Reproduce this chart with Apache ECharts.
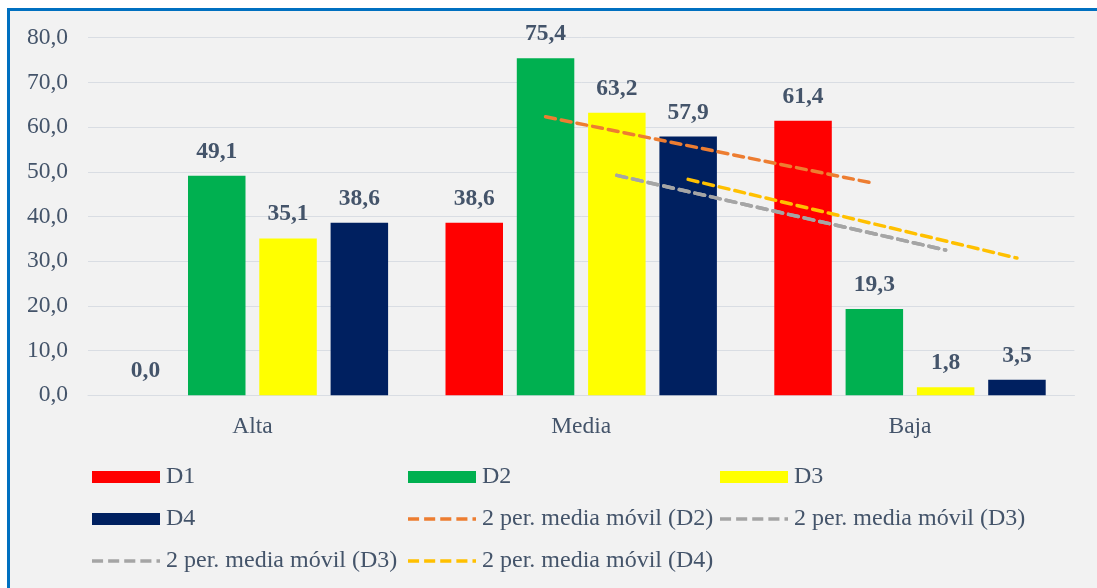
<!DOCTYPE html>
<html>
<head>
<meta charset="utf-8">
<script src="https://cdn.jsdelivr.net/npm/echarts@6/dist/echarts.min.js"></script>
<style>
  html, body { margin: 0; padding: 0; background: #ffffff; width: 1097px; height: 588px; overflow: hidden; }
  #frame { position: absolute; left: 7px; top: 8px; width: 1090px; height: 580px;
           border-top: 3px solid #0070C0; border-left: 3px solid #0070C0; background: #F2F2F2; }
  #chart { position: absolute; left: 0; top: 0; width: 1087px; height: 577px; }
</style>
</head>
<body>
<div id="frame"><div id="chart"></div></div>
<script>
// ---- data ----
const categories = ['Alta', 'Media', 'Baja'];
const d1 = [0.0, 38.6, 61.4];
const d2 = [49.1, 75.4, 19.3];
const d3 = [35.1, 63.2, 1.8];
const d4 = [38.6, 57.9, 3.5];
const maCategories = ['Media', 'Baja'];
const maD2 = [62.3, 47.4];
const maD3 = [49.2, 32.5];
const maD4 = [48.3, 30.7];
const barNames = ['D1', 'D2', 'D3', 'D4'];
const maNames = ['2 per. media móvil (D2)', '2 per. media móvil (D3)', '2 per. media móvil (D4)'];

// ---- style / layout ----
const FONT = 'Liberation Serif';
const TXT = '#44546A';
const barColors = ['#FF0000', '#00B050', '#FFFF00', '#002060'];
const W = 1087, H = 577;
const grid = { left: 78, right: 22.6, top: 26.7, bottom: 192.7 };
const BAR_W = 57.5, BAR_GAP = 0.24;
const bandW = (W - grid.left - grid.right) / categories.length;
function barOffset(k) { return (k - 1.5) * BAR_W * (1 + BAR_GAP) / bandW; }
function maData(vals, k) {
  return maCategories.map((c, i) => [categories.indexOf(c) + barOffset(k), vals[i]]);
}
const fmt = v => v.toFixed(1).replace('.', ',');
const DASH_ICON = 'path://M0,0h11v3.5h-11z M16,0h11v3.5h-11z M32,0h11v3.5h-11z M48,0h11v3.5h-11z M64,0h3.5v3.5h-3.5z';

const barSeries = [d1, d2, d3, d4].map((vals, k) => ({
  name: barNames[k], type: 'bar', data: vals, barWidth: BAR_W, barGap: (BAR_GAP * 100) + '%',
  itemStyle: { color: barColors[k] },
  label: { show: true, position: 'top', distance: 12, formatter: p => fmt(p.value),
           fontFamily: FONT, fontSize: 23.5, fontWeight: 'bold', color: TXT }
}));
function maSeries(name, vals, k, color) {
  return { name: name, type: 'line', xAxisIndex: 1, data: maData(vals, k), symbol: 'none', z: 5,
           lineStyle: { color: color, width: 3.5, type: [10, 6], cap: 'round' },
           itemStyle: { color: color } };
}
const lineSeries = [
  maSeries(maNames[0], maD2, 1, '#ED7D31'),
  maSeries(maNames[1], maD3, 2, '#A5A5A5'),
  maSeries(maNames[1], maD3, 2, '#A5A5A5'),
  maSeries(maNames[2], maD4, 3, '#FFC000')
];

// legend layout: [name, col, row, isBar]
const legendItems = [
  [barNames[0], 0, 0, true], [barNames[1], 1, 0, true], [barNames[2], 2, 0, true],
  [barNames[3], 0, 1, true], [maNames[0], 1, 1, false], [maNames[1], 2, 1, false],
  [maNames[1], 0, 2, false], [maNames[2], 1, 2, false]
];
const colX = [82, 398, 710];
const rowY = [454, 496, 538];
const legends = legendItems.map(([name, c, r, isBar]) => ({
  left: colX[c], top: rowY[r], padding: 0, itemWidth: 68, itemHeight: 12, itemGap: 0,
  symbolKeepAspect: true,
  data: [{ name: name, icon: isBar ? 'rect' : DASH_ICON }],
  itemStyle: { borderWidth: 0 },
  lineStyle: { width: 0 },
  textStyle: { fontFamily: FONT, fontSize: 24, color: TXT, padding: [0, 0, 0, 1] },
  selectedMode: false
}));

const chart = echarts.init(document.getElementById('chart'), null, { renderer: 'canvas' });
chart.setOption({
  animation: false,
  backgroundColor: '#F2F2F2',
  grid: grid,
  legend: legends,
  xAxis: [
    { type: 'category', data: categories,
      axisLine: { show: true, lineStyle: { color: '#D9DDE3', width: 1 } },
      axisTick: { show: false },
      axisLabel: { fontFamily: FONT, fontSize: 23.5, color: TXT, margin: 20 } },
    { type: 'value', min: -0.5, max: categories.length - 0.5, show: false }
  ],
  yAxis: {
    type: 'value', min: 0, max: 80, interval: 10,
    axisLine: { show: false }, axisTick: { show: false },
    splitLine: { lineStyle: { color: '#D9DDE3', width: 1 } },
    axisLabel: { fontFamily: FONT, fontSize: 23.5, color: TXT, margin: 20, formatter: v => fmt(v) }
  },
  series: barSeries.concat(lineSeries)
});
</script>
</body>
</html>
